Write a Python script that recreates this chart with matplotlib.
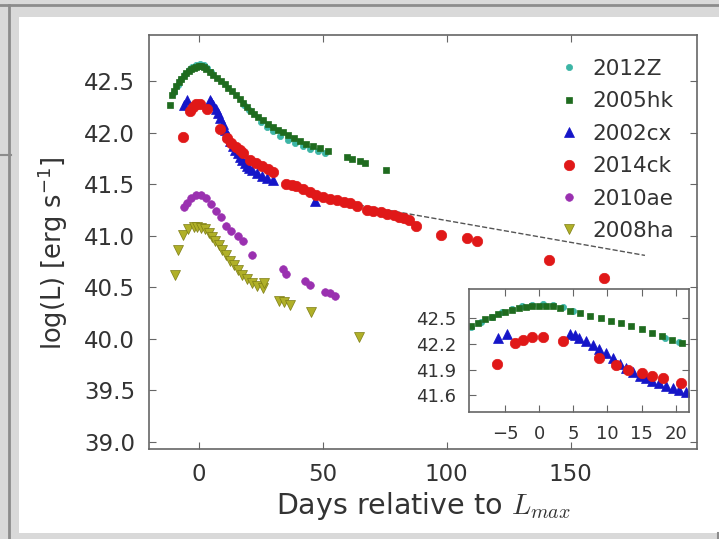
import matplotlib
matplotlib.use("Agg")
import matplotlib.pyplot as plt
from matplotlib.patches import Rectangle
from matplotlib.lines import Line2D

# ---- data ----
x_2012z = [-10, -8.5, -7, -5.5, -4, -2.5, -1, 0.5, 2, 3.5, 5, 18.5, 20.5,
           25, 27.5, 30, 33, 36, 39, 42, 45, 48, 51]
y_2012z = [42.40, 42.46, 42.52, 42.57, 42.61, 42.64, 42.66, 42.67, 42.66, 42.63,
           42.59, 42.27, 42.22, 42.11, 42.06, 42.02, 41.97, 41.93, 41.90, 41.87,
           41.84, 41.82, 41.80]

x_2005hk = [-11.5, -10.9, -10, -9, -8, -7, -6, -5, -4, -3, -2, -1, 0, 1, 2, 3,
            4.5, 6, 7.5, 9, 10.5, 12, 13.5, 15, 16.5, 18, 19.5, 21, 22.5, 24,
            26, 28, 30, 32, 34, 36, 38.5, 41, 43.5, 46, 49, 52, 60, 62, 65, 67, 75.5]
y_2005hk = [42.27, 42.37, 42.41, 42.45, 42.49, 42.52, 42.55, 42.58, 42.60, 42.62,
            42.63, 42.64, 42.65, 42.65, 42.64, 42.62, 42.59, 42.56, 42.53, 42.50,
            42.47, 42.44, 42.41, 42.37, 42.33, 42.29, 42.25, 42.21, 42.18, 42.15,
            42.12, 42.09, 42.06, 42.03, 42.01, 41.98, 41.95, 41.92, 41.89, 41.87,
            41.85, 41.82, 41.77, 41.75, 41.73, 41.71, 41.64]

x_2002cx = [-6.0, -4.8, 4.5, 5.2, 5.9, 6.9, 7.9, 8.8, 9.8, 10.8, 11.8, 12.7,
            13.7, 14.7, 15.7, 16.6, 17.6, 18.6, 19.6, 20.5, 21.5, 23.5, 25.5,
            27.5, 29.9, 47]
y_2002cx = [42.27, 42.32, 42.32, 42.30, 42.27, 42.23, 42.19, 42.14, 42.09, 42.03,
            41.97, 41.92, 41.87, 41.83, 41.80, 41.77, 41.74, 41.71, 41.68, 41.66,
            41.64, 41.61, 41.58, 41.56, 41.54, 41.34]

x_2014ck = [-6.2, -3.6, -2.4, -1.1, 0.6, 3.5, 8.8, 11.3, 13, 15, 16.6, 18.1,
            20.8, 23.1, 25.5, 27.8, 30, 35.3, 37.5, 39.4, 42, 44.8, 47.5, 50.2,
            53, 55.7, 58.5, 61.1, 64, 67.9, 70.5, 73.4, 76, 78.8, 81, 82.9, 85,
            87.6, 97.8, 108.2, 112.3, 141.5, 163.5]
y_2014ck = [41.96, 42.21, 42.25, 42.28, 42.28, 42.23, 42.04, 41.95, 41.90, 41.86,
            41.83, 41.80, 41.74, 41.71, 41.68, 41.65, 41.62, 41.50, 41.49, 41.48,
            41.45, 41.43, 41.40, 41.38, 41.36, 41.35, 41.33, 41.32, 41.29, 41.25,
            41.24, 41.23, 41.21, 41.20, 41.18, 41.17, 41.15, 41.10, 41.01, 40.98,
            40.95, 40.77, 40.59]

x_2010ae = [-6, -4.8, -3, -1, 1, 3, 5, 7, 9, 11, 13, 16, 18, 21.7, 33.9, 35.3,
            42.8, 44.8, 50.9, 53, 55]
y_2010ae = [41.28, 41.32, 41.37, 41.40, 41.40, 41.37, 41.31, 41.24, 41.18, 41.10,
            41.05, 41.00, 40.95, 40.81, 40.68, 40.63, 40.56, 40.52, 40.45, 40.44,
            40.42]

x_2008ha = [-9.5, -8.2, -6.1, -4.1, -2, -0.7, 1, 2.7, 4, 5.4, 6.8, 8.2, 9.5,
            10.9, 12.5, 14.3, 16, 17.6, 19.5, 21.7, 23.5, 25.8, 26.5, 32.6,
            34.5, 36.7, 45.5, 64.5]
y_2008ha = [40.62, 40.86, 41.01, 41.07, 41.09, 41.09, 41.08, 41.07, 41.03, 40.99,
            40.95, 40.91, 40.86, 40.81, 40.76, 40.72, 40.67, 40.62, 40.58, 40.54,
            40.51, 40.49, 40.54, 40.37, 40.36, 40.33, 40.26, 40.02]

# dashed late-time decline of 2014ck
fit_x = [50, 180]
fit_y = [41.36, 40.81]

series = [
    ("2012Z", x_2012z, y_2012z, "o", "#3cb5a5", "#3cb5a5", 4.5),
    ("2005hk", x_2005hk, y_2005hk, "s", "#1f6b1f", "#1f6b1f", 4.5),
    ("2002cx", x_2002cx, y_2002cx, "^", "#1515c8", "#1515c8", 6.5),
    ("2014ck", x_2014ck, y_2014ck, "o", "#e01818", "#e01818", 7.5),
    ("2010ae", x_2010ae, y_2010ae, "o", "#9a30b0", "#9a30b0", 5.5),
    ("2008ha", x_2008ha, y_2008ha, "v", "#b0b028", "#7d7d15", 7),
]

txt = "#333333"
spine = "#666666"

fig = plt.figure(figsize=(7.19, 5.39), dpi=100, facecolor="#d9d9d9")
W, H = 719.0, 539.0

# screenshot frame
fig.patches.append(Rectangle((19 / W, 1 - 533 / H), 1 - 19 / W, (533 - 17) / H,
                             transform=fig.transFigure, facecolor="white",
                             edgecolor="none", zorder=-5))
fig.lines.append(Line2D([0, 1], [1 - 5 / H, 1 - 5 / H], transform=fig.transFigure,
                        color="#8c8c8c", lw=2, zorder=-4))
fig.lines.append(Line2D([9 / W, 9 / W], [0, 1 - 5 / H], transform=fig.transFigure,
                        color="#8c8c8c", lw=2, zorder=-4))
fig.lines.append(Line2D([0, 11 / W], [1 - 155 / H, 1 - 155 / H], transform=fig.transFigure,
                        color="#8c8c8c", lw=1.5, zorder=-4))
fig.lines.append(Line2D([718 / W, 718 / W], [0, 1 - 533 / H], transform=fig.transFigure,
                        color="#8c8c8c", lw=1.5, zorder=-4))


def style(ax, fs, pad):
    for s in ax.spines.values():
        s.set_color(spine)
        s.set_linewidth(1.2)
    ax.tick_params(direction="in", top=True, right=True, length=5, width=0.8,
                   colors=spine, labelcolor=txt, labelsize=fs, pad=pad)


ax = fig.add_axes([149 / W, 1 - 449 / H, 548 / W, 414 / H])
ax.plot(fit_x, fit_y, "--", color="#555555", lw=1, zorder=1)
for name, xs, ys, m, c, ec, ms in series:
    ax.plot(xs, ys, m, color=c, mec=ec, ms=ms, mew=0.5, label=name, zorder=2)
ax.set_xlim(-20, 201)
ax.set_ylim(38.93, 42.95)
ax.set_xticks([0, 50, 100, 150])
ax.set_yticks([39.0, 39.5, 40.0, 40.5, 41.0, 41.5, 42.0, 42.5])
style(ax, 16.5, 10)
ax.set_xlabel(r"Days relative to $L_{max}$", fontsize=20.5, color=txt,
              math_fontfamily="cm", labelpad=3)
ax.set_ylabel(r"log(L) [erg s$^{-1}$]", fontsize=18.5, color=txt)
ax.yaxis.set_label_coords(-0.145, 0.473)

leg = ax.legend(loc="upper left", bbox_to_anchor=(0.746, 0.943), frameon=False,
                numpoints=1, fontsize=15.5, handlelength=1, handletextpad=0.6,
                labelspacing=0.58, borderpad=0, borderaxespad=0)
for t in leg.get_texts():
    t.set_color(txt)

# inset: early-time zoom of the four brightest events
axi = fig.add_axes([469 / W, 1 - 412.3 / H, 220.3 / W, 123 / H])
for name, xs, ys, m, c, ec, ms in series[:4]:
    axi.plot(xs, ys, m, color=c, mec=ec, ms=ms, mew=0.5)
axi.set_xlim(-10.3, 22)
axi.set_ylim(41.4, 42.84)
axi.set_xticks([-5, 0, 5, 10, 15, 20])
axi.set_yticks([41.6, 41.9, 42.2, 42.5])
style(axi, 13, 9)

fig.savefig("out.png", dpi=100, facecolor=fig.get_facecolor())
